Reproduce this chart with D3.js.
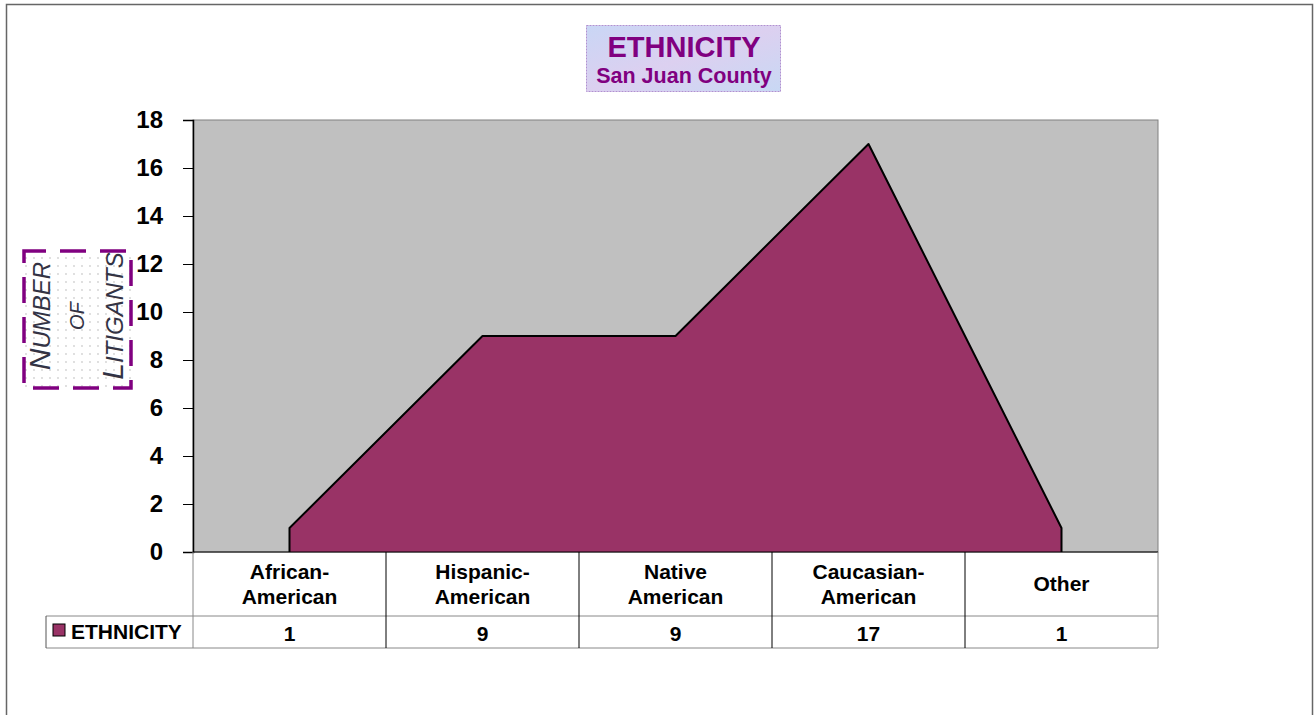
<!DOCTYPE html>
<html>
<head>
<meta charset="utf-8">
<script src="https://cdn.jsdelivr.net/npm/d3@7"></script>
<style>
  body { margin: 0; background: #fff; }
  text { font-family: "Liberation Sans", Arial, sans-serif; }
</style>
</head>
<body>
<svg></svg>
<script>
const width = 1315
const height = 715

// data
const categories = ["African-American", "Hispanic-American", "Native American", "Caucasian-American", "Other"]
const catLines = [["African-", "American"], ["Hispanic-", "American"], ["Native", "American"], ["Caucasian-", "American"], ["Other"]]
const values = [1, 9, 9, 17, 1]
const yTicks = [0, 2, 4, 6, 8, 10, 12, 14, 16, 18]
const seriesName = "ETHNICITY"

const svg = d3.select("svg")
  .attr("width", width)
  .attr("height", height)

const defs = svg.append("defs")
const grad = defs.append("linearGradient").attr("id", "titleGrad")
  .attr("x1", "0").attr("y1", "0").attr("x2", "1").attr("y2", "1")
grad.append("stop").attr("offset", "0%").attr("stop-color", "#c9d6f5")
grad.append("stop").attr("offset", "50%").attr("stop-color", "#dcd0f0")
grad.append("stop").attr("offset", "100%").attr("stop-color", "#c8d8f4")

const dots = defs.append("pattern").attr("id", "dots")
  .attr("width", 8).attr("height", 8).attr("patternUnits", "userSpaceOnUse")
dots.append("rect").attr("width", 8).attr("height", 8).attr("fill", "#fff")
dots.append("circle").attr("cx", 2).attr("cy", 2).attr("r", 0.7).attr("fill", "#aaa")

// outer frame
svg.append("rect")
  .attr("x", 6.5).attr("y", 4.5)
  .attr("width", 1306).attr("height", 720)
  .attr("fill", "none")
  .attr("stroke", "#666")
  .attr("stroke-width", 1.5)

const plotL = 193, plotR = 1158, plotT = 120, plotB = 552

const x = d3.scaleBand()
  .domain(categories)
  .range([plotL, plotR])

const y = d3.scaleLinear()
  .domain([0, 18])
  .range([plotB, plotT])

// plot area
svg.append("rect")
  .attr("x", plotL).attr("y", plotT)
  .attr("width", plotR - plotL).attr("height", plotB - plotT)
  .attr("fill", "#c0c0c0")
  .attr("stroke", "#808080")
  .attr("stroke-width", 1)

const area = d3.area()
  .x(d => x(d.c) + x.bandwidth() / 2)
  .y0(y(0))
  .y1(d => y(d.v))

const pts = categories.map((c, i) => ({c: c, v: values[i]}))

svg.append("path")
  .datum(pts)
  .attr("d", area)
  .attr("fill", "#993366")

// outline: left edge, top line, right edge
const outline = d3.line()
  .x(d => d[0])
  .y(d => d[1])
const first = pts[0], last = pts[pts.length - 1]
const outlinePts = [[x(first.c) + x.bandwidth() / 2, y(0)]]
  .concat(pts.map(d => [x(d.c) + x.bandwidth() / 2, y(d.v)]))
  .concat([[x(last.c) + x.bandwidth() / 2, y(0)]])
svg.append("path")
  .attr("d", outline(outlinePts))
  .attr("fill", "none")
  .attr("stroke", "#000")
  .attr("stroke-width", 2)
  .attr("stroke-linejoin", "round")

// y axis
const yAxis = svg.append("g")
  .attr("transform", `translate(${plotL},0)`)
  .call(d3.axisLeft(y).tickValues(yTicks).tickSize(10).tickPadding(20))
yAxis.select(".domain").attr("stroke", "#000").attr("stroke-width", 1.5)
yAxis.selectAll(".tick line").attr("stroke", "#000")
yAxis.selectAll(".tick text")
  .attr("font-size", 24)
  .attr("font-weight", "bold")
  .attr("fill", "#000")
  .attr("font-family", "Liberation Sans, Arial, sans-serif")

// data table
const row1 = plotB, row2 = 616, row3 = 648
const tableLeft = 46
const tbl = svg.append("g")
tbl.append("line").attr("x1", plotL).attr("x2", plotR).attr("y1", row1).attr("y2", row1).attr("stroke", "#000")
tbl.append("line").attr("x1", tableLeft).attr("x2", plotR).attr("y1", row2).attr("y2", row2).attr("stroke", "#888")
tbl.append("line").attr("x1", tableLeft).attr("x2", plotR).attr("y1", row3).attr("y2", row3).attr("stroke", "#888")
tbl.append("line").attr("x1", tableLeft).attr("x2", tableLeft).attr("y1", row2).attr("y2", row3).attr("stroke", "#555")
const edges = categories.map(c => x(c)).concat([plotR])
tbl.selectAll("line.v")
  .data(edges)
  .enter()
  .append("line")
  .attr("class", "v")
  .attr("x1", d => d).attr("x2", d => d)
  .attr("y1", row1).attr("y2", row3)
  .attr("stroke", (d, i) => i === 0 || i === edges.length - 1 ? "#888" : "#000")

// category labels and values
categories.forEach((c, i) => {
  const lines = catLines[i]
  const cx = x(c) + x.bandwidth() / 2
  const t = tbl.append("text")
    .attr("x", cx)
    .attr("text-anchor", "middle")
    .attr("font-size", 21)
    .attr("font-weight", "bold")
    .attr("fill", "#000")
  const startY = lines.length === 1 ? 591 : 579
  lines.forEach((l, j) => {
    t.append("tspan").attr("x", cx).attr("y", startY + j * 25).text(l)
  })
  tbl.append("text")
    .attr("x", cx).attr("y", 641)
    .attr("text-anchor", "middle")
    .attr("font-size", 21)
    .attr("font-weight", "bold")
    .text(values[i])
})

// legend key in table
tbl.append("rect")
  .attr("x", 53).attr("y", 624)
  .attr("width", 12).attr("height", 12)
  .attr("fill", "#993366")
  .attr("stroke", "#000")
tbl.append("text")
  .attr("x", 71).attr("y", 639)
  .attr("font-size", 21)
  .attr("font-weight", "bold")
  .text(seriesName)

// title box
svg.append("rect")
  .attr("x", 586.5).attr("y", 25.5)
  .attr("width", 194).attr("height", 66)
  .attr("fill", "url(#titleGrad)")
  .attr("stroke", "#b090d0")
  .attr("stroke-dasharray", "2,1")
svg.append("text")
  .attr("x", 684).attr("y", 57)
  .attr("text-anchor", "middle")
  .attr("font-size", 29)
  .attr("font-weight", "bold")
  .attr("fill", "#800080")
  .text("ETHNICITY")
svg.append("text")
  .attr("x", 684).attr("y", 83)
  .attr("text-anchor", "middle")
  .attr("font-size", 21.5)
  .attr("font-weight", "bold")
  .attr("fill", "#800080")
  .text("San Juan County")

// y axis title box
svg.append("rect")
  .attr("x", 24).attr("y", 251)
  .attr("width", 107).attr("height", 137)
  .attr("fill", "url(#dots)")
  .attr("stroke", "#800080")
  .attr("stroke-width", 3.5)
  .attr("stroke-dasharray", "26,14")
  .attr("stroke-dashoffset", 4)

const yTitle = [["N", "UMBER"], ["OF"], ["L", "ITIGANTS"]]
const colX = [50, 84, 123]
yTitle.forEach((parts, i) => {
  const t = svg.append("text")
    .attr("transform", `translate(${colX[i]},316) rotate(-90)`)
    .attr("text-anchor", "middle")
    .attr("font-style", "italic")
    .attr("fill", "#333344")
  if (parts.length === 1) {
    t.append("tspan").attr("font-size", 20).text(parts[0])
  } else {
    t.append("tspan").attr("font-size", 30).text(parts[0])
    t.append("tspan").attr("font-size", 24).text(parts[1])
  }
})
</script>
</body>
</html>
